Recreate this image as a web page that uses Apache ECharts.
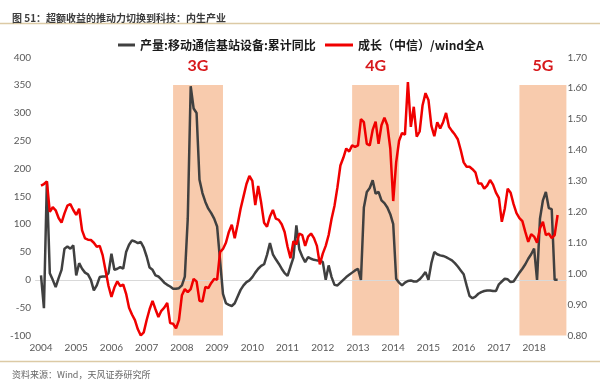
<!DOCTYPE html>
<html>
<head>
<meta charset="utf-8">
<script src="https://cdn.jsdelivr.net/npm/echarts@6.0.0/dist/echarts.min.js"></script>
<style>
html,body{margin:0;padding:0;background:#fff;}
#chart{width:600px;height:383px;}
</style>
</head>
<body>
<div id="chart"></div>
<script>
// ---------- data ----------
const titleText = '图 51：超额收益的推动力切换到科技：内生产业';
const sourceText = '资料来源：Wind，天风证券研究所';
const blackName = '产量:移动通信基站设备:累计同比';
const redName = '成长（中信）/wind全A';

// axis range: months from 2003-11 to 2018-12; data begins 2004-01
const axisStart = [2003, 11];
const axisEnd = [2018, 12];
const dataStart = '2004-01';

// 产量:移动通信基站设备:累计同比 (%), monthly from 2004-01
const production = [
  8, -51, 177, 12, 0, -13, 3, 18, 56, 60, 56, 62,
  8, 30, 20, 13, 10, 0, -19, -10, 5, 6, 6, 12,
  47, 18, 20, 23, 20, 50, 63, 71, 69, 66, 68, 58,
  42, 22, 18, 8, 6, 1, -5, -9, -12, -16, -16, -15,
  -10, 6, 110, 348, 308, 300, 180, 156, 140, 128, 120, 110,
  96, 35, -25, -42, -45, -47, -42, -30, -18, -10, -4, -1,
  5, 13, 20, 25, 28, 45, 66, 46, 37, 29, 20, 12,
  7, 24, 40, 98, 55, 42, 32, 41, 38, 36, 35, 35,
  32, 0, 26, 5, -9, -10, -5, 0, 5, 9, 13, 17,
  20, 0, 130, 158, 165, 179, 155, 158, 143, 138, 130, 118,
  100, 2, -5, -10, -5, -2, -1, -3, -3, 1, 7, 14,
  0, 30, 50, 46, 44, 43, 41, 38, 35, 30, 24, 17,
  10, -10, -29, -33, -30, -25, -22, -20, -19, -19, -20, -20,
  -8, -3, 2, 1, -4, -3, 5, 13, 20, 28, 38, 46,
  56, 0, 110, 143, 158, 129, 127, 0, 0
];

// 成长（中信）/wind全A ratio, monthly from 2004-01
const growthRatio = [
  1.285, 1.29, 1.298, 1.20, 1.215, 1.205, 1.18, 1.165, 1.195, 1.22, 1.225, 1.206,
  1.19, 1.21, 1.14, 1.114, 1.11, 1.109, 1.10, 1.087, 1.09, 1.06, 1.01, 0.96,
  0.925, 0.955, 0.975, 0.96, 0.965, 0.935, 0.89, 0.868, 0.85, 0.82, 0.80, 0.81,
  0.85, 0.885, 0.912, 0.885, 0.86, 0.88, 0.89, 0.905, 0.84, 0.838, 0.823, 0.85,
  0.93, 0.95, 0.94, 0.95, 0.983, 0.975, 0.912, 0.91, 0.957, 0.953, 0.97, 0.983,
  0.98, 1.07, 1.08, 1.10, 1.135, 1.158, 1.115, 1.16, 1.21, 1.25, 1.29, 1.316,
  1.30, 1.222, 1.284, 1.23, 1.165, 1.152, 1.185, 1.206, 1.178, 1.174, 1.16, 1.135,
  1.087, 1.05, 1.105, 1.095, 1.13, 1.125, 1.09, 1.12, 1.13, 1.115, 1.09, 1.03,
  1.065, 1.09, 1.125, 1.178, 1.22, 1.28, 1.35, 1.375, 1.405, 1.395, 1.415, 1.41,
  1.415, 1.50, 1.49, 1.42, 1.415, 1.465, 1.492, 1.42, 1.48, 1.505, 1.48, 1.405,
  1.235, 1.36, 1.43, 1.455, 1.45, 1.62, 1.475, 1.54, 1.443, 1.46, 1.545, 1.584,
  1.562, 1.478, 1.445, 1.49, 1.47, 1.49, 1.52, 1.475, 1.462, 1.45, 1.435, 1.40,
  1.36, 1.346, 1.346, 1.338, 1.328, 1.292, 1.292, 1.275, 1.285, 1.303, 1.288, 1.262,
  1.245, 1.168, 1.21, 1.275, 1.262, 1.225, 1.196, 1.18, 1.17, 1.135, 1.103, 1.128,
  1.12, 1.10, 1.147, 1.168, 1.125, 1.13, 1.115, 1.125, 1.19
];

// highlighted periods
const bandNames = ['3G', '4G', '5G'];
const bandStart = ['2007-10', '2012-11', '2017-08'];
const bandEnd = ['2009-03', '2014-03', '2018-12'];
const bandTop = 350;
const bandBottom = -100;

// axis settings
const leftMin = -100, leftMax = 400, leftStep = 50;
const rightMin = 0.8, rightMax = 1.7, rightStep = 0.1;

// ---------- build ----------
function pad2(n){ return (n < 10 ? '0' : '') + n; }
const months = [];
{
  let y = axisStart[0], m = axisStart[1];
  while (y < axisEnd[0] || (y === axisEnd[0] && m <= axisEnd[1])) {
    months.push(y + '-' + pad2(m));
    m++; if (m > 12) { m = 1; y++; }
  }
}
const offset = months.indexOf(dataStart);
function align(arr){
  const out = new Array(offset).fill(null).concat(arr);
  while (out.length < months.length) out.push(null);
  return out;
}

const labelFont = 'Lato, "Noto Sans", sans-serif';
const cjkFont = '"Noto Sans CJK SC", sans-serif';

const chart = echarts.init(document.getElementById('chart'), null, {renderer: 'canvas'});
chart.setOption({
  animation: false,
  backgroundColor: '#ffffff',
  title: [
    { text: titleText, left: 7, top: 8,
      textStyle: { fontSize: 10, fontWeight: 'bold', color: '#3c3c3c', fontFamily: cjkFont } },
    { text: sourceText, left: 7, top: 365,
      textStyle: { fontSize: 9, fontWeight: 'normal', color: '#666666', fontFamily: cjkFont } }
  ],
  graphic: [
    { type: 'line', shape: { x1: 0, y1: 23.5, x2: 600, y2: 23.5 }, style: { stroke: '#dccaa5', lineWidth: 1.5 } },
    { type: 'line', shape: { x1: 0, y1: 361.5, x2: 600, y2: 361.5 }, style: { stroke: '#dccaa5', lineWidth: 1.5 } }
  ],
  legend: [
    { left: 113, top: 34, itemWidth: 17, itemHeight: 3, icon: 'rect', data: [blackName],
      textStyle: { fontSize: 12, fontWeight: 'bold', color: '#1a1a1a', fontFamily: cjkFont } },
    { left: 320, top: 34, itemWidth: 28, itemHeight: 3, icon: 'rect', data: [redName],
      textStyle: { fontSize: 12, fontWeight: 'bold', color: '#1a1a1a', fontFamily: cjkFont } }
  ],
  grid: { left: 35.13, right: 33.6, top: 57.3, bottom: 47.5, outerBoundsMode: 'none', containLabel: false },
  xAxis: {
    type: 'category',
    data: months,
    boundaryGap: false,
    axisLine: { show: false },
    axisTick: { show: false },
    splitLine: { show: false },
    axisLabel: {
      interval: function (i, v) { return v.slice(5) === '01'; },
      formatter: function (v) { return v.slice(0, 4); },
      color: '#595959', fontSize: 10, fontFamily: labelFont, margin: 7
    }
  },
  yAxis: [
    { type: 'value', min: leftMin, max: leftMax, interval: leftStep,
      axisLine: { show: false }, axisTick: { show: false }, splitLine: { show: false },
      axisLabel: { color: '#595959', fontSize: 10, fontFamily: labelFont, margin: 4 } },
    { type: 'value', min: rightMin, max: rightMax, interval: rightStep, position: 'right',
      axisLine: { show: false }, axisTick: { show: false }, splitLine: { show: false },
      axisLabel: { color: '#595959', fontSize: 10, fontFamily: labelFont, margin: 1,
        formatter: function (v) { return v.toFixed(2); } } }
  ],
  series: [
    {
      name: blackName, type: 'line', yAxisIndex: 0,
      data: align(production),
      symbol: 'none', showSymbol: false,
      lineStyle: { color: '#404040', width: 2.5 },
      itemStyle: { color: '#404040' },
      markArea: {
        silent: true, z: 1,
        itemStyle: { color: '#F8CBAD', opacity: 1 },
        label: { show: true, position: 'top', distance: 11, color: '#d7191c',
          fontSize: 16, fontWeight: 'bold', fontFamily: labelFont },
        data: bandNames.map(function (n, i) {
          return [{ name: n, xAxis: bandStart[i], yAxis: bandTop }, { xAxis: bandEnd[i], yAxis: bandBottom }];
        })
      },
      markLine: {
        silent: true, z: 1.5, symbol: ['none', 'none'],
        label: { show: false },
        lineStyle: { color: '#d9d9d9', width: 1, type: 'solid' },
        data: [{ yAxis: 0 }]
      }
    },
    {
      name: redName, type: 'line', yAxisIndex: 1,
      data: align(growthRatio),
      symbol: 'none', showSymbol: false,
      lineStyle: { color: '#f00000', width: 2.5 },
      itemStyle: { color: '#f00000' }
    }
  ]
});
</script>
</body>
</html>
